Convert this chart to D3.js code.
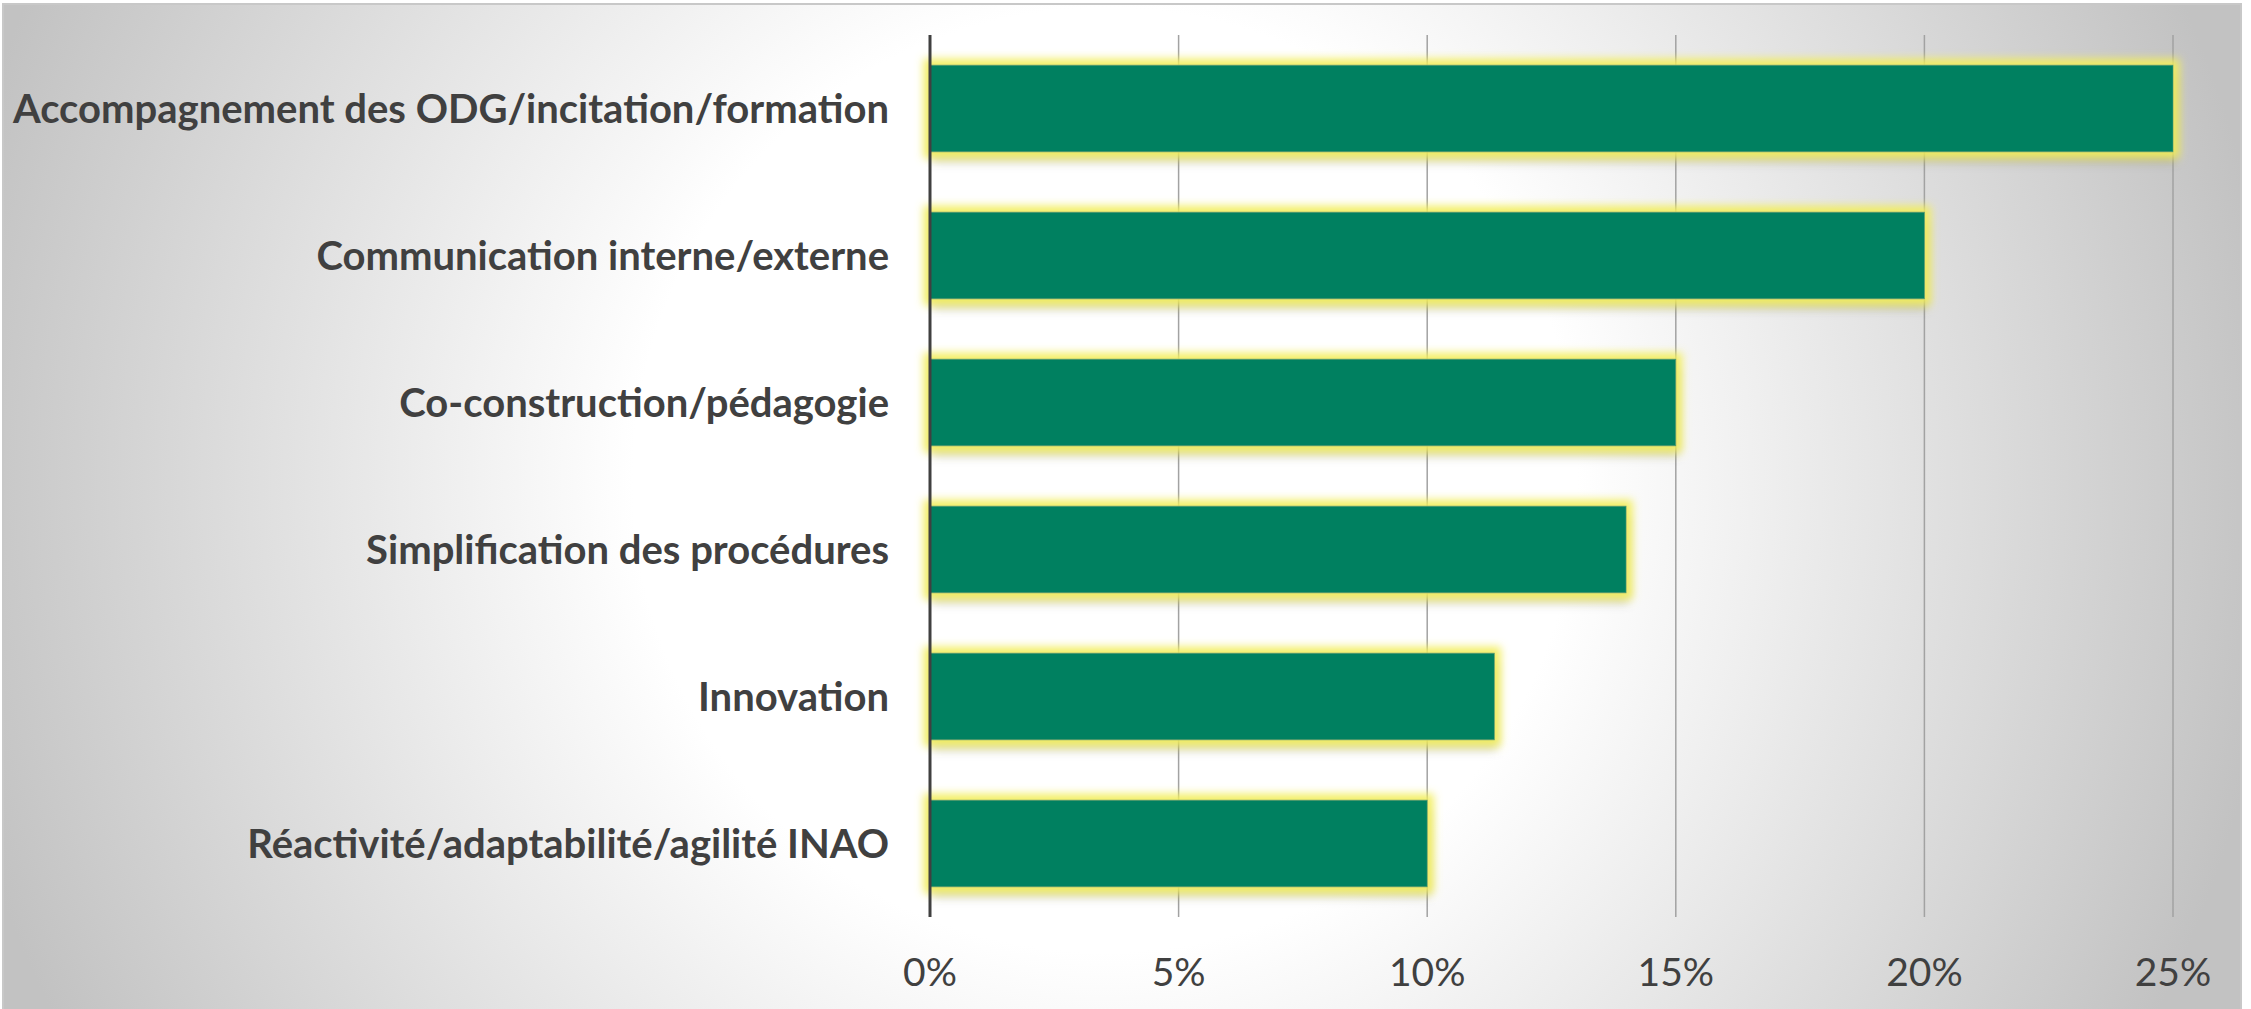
<!DOCTYPE html>
<html>
<head>
<meta charset="utf-8">
<script src="https://cdn.jsdelivr.net/npm/d3@7/dist/d3.min.js"></script>
<style>
  html, body { margin: 0; padding: 0; background: #ffffff; }
  svg { display: block; }
</style>
</head>
<body>
<div id="chart"></div>
<script>
// ---- data ----
const categories = [
  "Accompagnement des ODG/incitation/formation",
  "Communication interne/externe",
  "Co-construction/pédagogie",
  "Simplification des procédures",
  "Innovation",
  "Réactivité/adaptabilité/agilité INAO"
];
const values = [0.25, 0.20, 0.15, 0.14, 0.1135, 0.10];
const tickValues = [0, 0.05, 0.10, 0.15, 0.20, 0.25];
const tickLabels = ["0%", "5%", "10%", "15%", "20%", "25%"];

// ---- layout ----
const W = 2251, H = 1009;
const plot = { left: 930, right: 2173, top: 35, bottom: 917 };

const svg = d3.select("#chart").append("svg")
  .attr("width", W).attr("height", H);

const defs = svg.append("defs");

const grad = defs.append("radialGradient")
  .attr("id", "bg")
  .attr("gradientUnits", "userSpaceOnUse")
  .attr("cx", 1105).attr("cy", 480).attr("r", 1180);
grad.append("stop").attr("offset", 0).attr("stop-color", "#ffffff");
grad.append("stop").attr("offset", 0.40).attr("stop-color", "#ffffff");
grad.append("stop").attr("offset", 1).attr("stop-color", "#c2c2c2");

const f = defs.append("filter").attr("id", "glow")
  .attr("x", -0.1).attr("y", -0.5).attr("width", 1.2).attr("height", 2.0);
f.append("feGaussianBlur").attr("in", "SourceAlpha").attr("stdDeviation", 5).attr("result", "sblur");
f.append("feOffset").attr("in", "sblur").attr("dx", 2).attr("dy", 10).attr("result", "soff");
f.append("feFlood").attr("flood-color", "#000000").attr("flood-opacity", 0.3).attr("result", "scol");
f.append("feComposite").attr("in", "scol").attr("in2", "soff").attr("operator", "in").attr("result", "shadow");
f.append("feMorphology").attr("in", "SourceAlpha").attr("operator", "dilate").attr("radius", 6).attr("result", "dil");
f.append("feGaussianBlur").attr("in", "dil").attr("stdDeviation", 4).attr("result", "gblur");
f.append("feFlood").attr("flood-color", "#f2ee5c").attr("flood-opacity", 0.95).attr("result", "gcol");
f.append("feComposite").attr("in", "gcol").attr("in2", "gblur").attr("operator", "in").attr("result", "glowc");
const merge = f.append("feMerge");
merge.append("feMergeNode").attr("in", "shadow");
merge.append("feMergeNode").attr("in", "glowc");
merge.append("feMergeNode").attr("in", "SourceGraphic");

// chart area background with border
svg.append("rect")
  .attr("x", 3).attr("y", 4).attr("width", 2238).attr("height", H + 10)
  .attr("fill", "url(#bg)")
  .attr("stroke", "#c8c8c8").attr("stroke-width", 2);

// ---- scales ----
const x = d3.scaleLinear().domain([0, 0.25]).range([plot.left, plot.right]);
const y = d3.scaleBand().domain(categories)
  .range([plot.top, plot.bottom])
  .paddingInner(0.41).paddingOuter(0.205);

// gridlines
svg.append("g").selectAll("line")
  .data(tickValues.slice(1))
  .join("line")
  .attr("x1", d => x(d)).attr("x2", d => x(d))
  .attr("y1", plot.top).attr("y2", plot.bottom)
  .attr("stroke", "#a2a2a2").attr("stroke-width", 1.5);

// bars
svg.append("g").selectAll("rect")
  .data(categories.map((c, i) => ({ c, v: values[i] })))
  .join("rect")
  .attr("x", x(0))
  .attr("y", d => y(d.c))
  .attr("width", d => x(d.v) - x(0))
  .attr("height", y.bandwidth())
  .attr("fill", "#008060")
  .attr("stroke", "#3f9a72").attr("stroke-width", 0.8)
  .attr("filter", "url(#glow)");

// vertical category axis line
svg.append("line")
  .attr("x1", x(0)).attr("x2", x(0))
  .attr("y1", plot.top).attr("y2", plot.bottom)
  .attr("stroke", "#404040").attr("stroke-width", 3);

// category labels
svg.append("g").selectAll("text")
  .data(categories)
  .join("text")
  .attr("x", 889)
  .attr("y", d => y(d) + y.bandwidth() / 2)
  .attr("dy", "0.36em")
  .attr("text-anchor", "end")
  .attr("font-family", "Lato, 'Open Sans', sans-serif")
  .attr("font-weight", 700)
  .attr("font-size", 40)
  .attr("fill", "#404040")
  .text(d => d);

// value axis tick labels
svg.append("g").selectAll("text")
  .data(tickValues)
  .join("text")
  .attr("x", d => x(d))
  .attr("y", 986)
  .attr("text-anchor", "middle")
  .attr("font-family", "Lato, 'Open Sans', sans-serif")
  .attr("font-weight", 400)
  .attr("font-size", 39)
  .attr("fill", "#404040")
  .text((d, i) => tickLabels[i]);
</script>
</body>
</html>
